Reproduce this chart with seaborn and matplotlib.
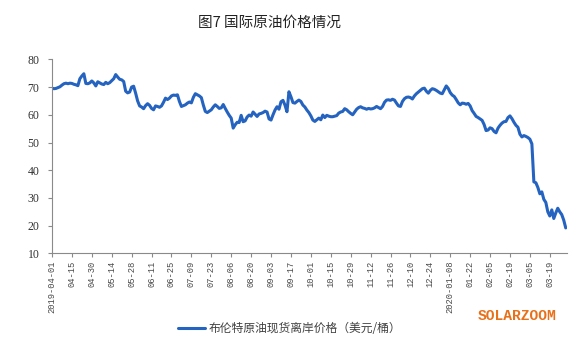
import matplotlib
matplotlib.use("Agg")
import matplotlib.pyplot as plt
import seaborn as sns
import numpy as np
import pandas as pd

# x tick labels, one every 10 trading days
tick_labels = ['2019-04-01', '04-15', '04-30', '05-14', '05-28', '06-11', '06-25',
               '07-09', '07-23', '08-06', '08-20', '09-03', '09-17', '10-01',
               '10-15', '10-29', '11-12', '11-26', '12-10', '12-24', '2020-01-08',
               '01-22', '02-05', '02-19', '03-05', '03-19']
y_ticks = [10, 20, 30, 40, 50, 60, 70, 80]

# Brent spot FOB, USD/bbl, one value per trading day
brent_apr_jun = [69.6, 69.4, 69.5, 69.8, 70.1, 70.7, 71.2, 71.4, 71.2, 71.4,
                 71.3, 71.0, 70.8, 70.5, 73.0, 74.0, 74.8, 71.3, 71.2, 71.5,
                 72.2, 71.5, 70.4, 71.9, 71.5, 71.1, 70.9, 71.7, 71.2, 71.6,
                 72.3, 73.0, 74.5, 73.6, 72.8, 72.6, 72.0, 68.5, 67.9, 68.2,
                 70.0, 70.3, 67.8, 65.0, 63.2, 62.8, 62.2, 63.3, 64.0, 63.4,
                 62.3]
brent_jun_aug = [61.8, 63.2, 63.0, 62.7, 63.2, 64.5, 66.0, 65.5, 66.0, 66.8,
                 67.1, 67.0, 67.2, 64.8, 63.0, 63.3, 63.6, 64.2, 64.6, 64.3,
                 66.3, 67.6, 67.2, 66.8, 66.2, 63.5, 61.2, 60.8, 61.3, 61.8,
                 62.8, 63.6, 63.0, 62.3, 62.5, 63.7, 62.3, 61.0, 59.8, 58.8,
                 55.2, 56.4, 57.3, 57.2, 59.8, 57.5, 57.8, 59.2, 59.9, 59.5,
                 61.0, 60.2, 59.4]
brent_aug_nov = [60.3, 60.5, 60.8, 61.3, 61.0, 58.5, 58.1, 60.0, 61.7, 62.9,
                 62.0, 64.7, 65.2, 63.5, 61.1, 68.3, 66.5, 64.4, 64.2, 64.8,
                 65.3, 64.8, 63.5, 62.8, 61.7, 60.8, 59.6, 58.1, 57.6, 58.2,
                 58.8, 58.2, 59.9, 59.0, 59.8, 59.5, 59.3, 59.3, 59.5, 59.7,
                 60.6, 61.0, 61.2, 62.2, 61.8, 61.1, 60.5, 60.0, 61.0, 62.0,
                 62.6, 62.9]
brent_nov_jan = [62.5, 62.3, 62.0, 62.3, 62.1, 62.2, 62.5, 63.0, 62.6, 62.2,
                 63.0, 64.5, 65.3, 65.4, 65.2, 65.6, 65.3, 64.2, 63.2, 63.0,
                 64.8, 65.8, 66.3, 66.4, 66.2, 65.7, 66.8, 67.6, 68.2, 68.8,
                 69.4, 69.6, 68.5, 67.8, 68.8, 69.4, 69.2, 68.8, 68.3, 67.8,
                 67.6, 69.0, 70.4, 69.5, 68.0, 67.1, 66.6, 65.5, 64.3, 63.6,
                 64.2, 64.1, 63.8, 64.1, 63.2]
brent_jan_mar = [61.5, 60.5, 59.4, 59.0, 58.5, 58.0, 56.5, 54.3, 54.5, 55.3,
                 55.0, 54.0, 53.5, 55.2, 56.2, 57.0, 57.5, 57.6, 59.0, 59.6,
                 58.6, 57.3, 56.2, 55.5, 53.0, 52.0, 52.5, 52.2, 51.8, 51.2,
                 49.5, 35.8, 35.5, 33.8, 31.5, 32.2, 29.5, 28.4, 25.0, 23.5,
                 25.7, 22.6, 24.6, 26.3, 25.0, 24.0, 22.0, 19.2]

price = brent_apr_jun + brent_jun_aug + brent_aug_nov + brent_nov_jan + brent_jan_mar
df = pd.DataFrame({'day': np.arange(len(price)), 'price': price})

legend_label = '布伦特原油现货离岸价格（美元/桶）'

sns.set_theme(style='white')
plt.rcParams['font.family'] = ['Noto Sans CJK SC', 'DejaVu Sans']

fig = plt.figure(figsize=(5.79, 3.51), dpi=100)
ax = fig.add_axes([0.0898, 0.278, 0.889, 0.553])

sns.lineplot(data=df, x='day', y='price', color='#2563c0', linewidth=2.2,
             ax=ax, label=legend_label)

ax.set_ylim(10, 80)
ax.set_xlim(0, 258.5)
ax.set_yticks(y_ticks)
ax.set_yticklabels([str(v) for v in y_ticks], fontfamily='Liberation Serif',
                   fontsize=8.5, color='#333333')
ax.set_xticks(range(0, 251, 10))
ax.set_xticklabels(tick_labels, rotation=90, fontfamily='Liberation Mono',
                   fontsize=6.3, color='#4a4a4a')
ax.tick_params(axis='y', color='#8a8a8a', length=3, width=0.8,
               direction='out', pad=6, left=True)
ax.tick_params(axis='x', color='#8a8a8a', length=3, width=0.8,
               direction='out', pad=2, bottom=True)
ax.set_xlabel('')
ax.set_ylabel('')

for side in ['top', 'right']:
    ax.spines[side].set_visible(False)
for side in ['left', 'bottom']:
    ax.spines[side].set_color('#8a8a8a')
    ax.spines[side].set_linewidth(0.8)

ax.legend(loc='center', bbox_to_anchor=(0.5, 0.0627), bbox_transform=fig.transFigure,
          frameon=False, fontsize=8.5, handlelength=2.3, handletextpad=0.3,
          labelcolor='#404040')

fig.text(0.465, 0.934, '图7 国际原油价格情况', ha='center', va='center',
         fontsize=10.5, color='#222222')
fig.text(517 / 579, 1 - 316 / 351, 'SOLARZOOM', ha='center', va='center',
         color='#e8701a', fontfamily='Liberation Mono', fontweight='bold',
         fontsize=10.5)

fig.savefig('out.png', dpi=100)
